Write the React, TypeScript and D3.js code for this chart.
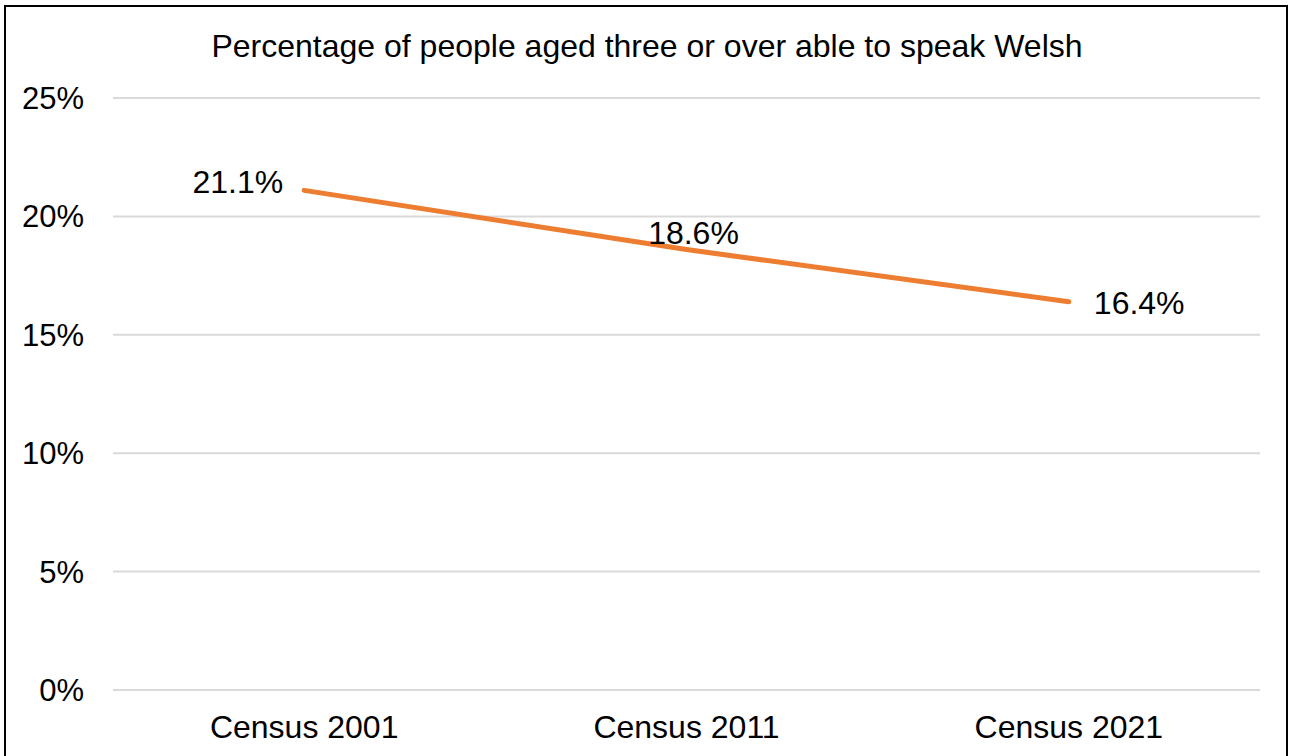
import React from "react";
import * as d3 from "d3";

const categories = ["Census 2001", "Census 2011", "Census 2021"];
const values = [21.1, 18.6, 16.4];
const yTicks = [0, 5, 10, 15, 20, 25];
const title = "Percentage of people aged three or over able to speak Welsh";

export default function App() {
  const W = 1290, H = 756;
  const left = 113, right = 1260, top = 98, bottom = 690;
  const x = d3.scaleBand().domain(categories).range([left, right]);
  const y = d3.scaleLinear().domain([0, 25]).range([bottom, top]);
  const pts = categories.map((c, i) => [x(c)! + x.bandwidth() / 2, y(values[i])] as [number, number]);
  const line = d3.line()(pts)!;
  const font = "Arial, 'Liberation Sans', sans-serif";
  return (
    <svg width={W} height={H} style={{ position: "absolute", left: 0, top: 0, background: "#fff" }} fontFamily={font}>
      <rect x={5} y={6} width={1282} height={760} fill="#fff" stroke="#000" strokeWidth={2} />
      <text x={647} y={57} textAnchor="middle" fontSize={32} fill="#000">{title}</text>
      {yTicks.map(t => (
        <g key={t}>
          <line x1={left} x2={right} y1={y(t)} y2={y(t)} stroke="#d9d9d9" strokeWidth={2} />
          <text x={84} y={y(t) + 11} textAnchor="end" fontSize={31} fill="#000">{t}%</text>
        </g>
      ))}
      {categories.map(c => (
        <text key={c} x={x(c)! + x.bandwidth() / 2} y={738} textAnchor="middle" fontSize={32} fill="#000">{c}</text>
      ))}
      <path d={line} fill="none" stroke="#ED7D31" strokeWidth={5} strokeLinecap="round" />
      <text x={pts[0][0] - 21} y={pts[0][1] + 3} textAnchor="end" fontSize={32} fill="#000">{values[0].toFixed(1)}%</text>
      <text x={pts[1][0] + 7} y={pts[1][1] - 6} textAnchor="middle" fontSize={32} fill="#000">{values[1].toFixed(1)}%</text>
      <text x={pts[2][0] + 25} y={pts[2][1] + 12} textAnchor="start" fontSize={32} fill="#000">{values[2].toFixed(1)}%</text>
    </svg>
  );
}
